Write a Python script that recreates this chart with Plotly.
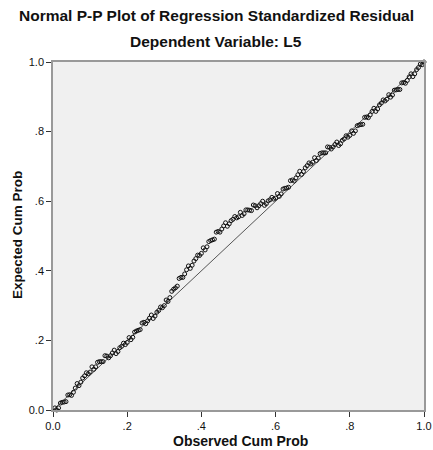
import plotly.graph_objects as go

# Observed cumulative probability (x) and expected cumulative probability (y)
observed_a = [
    0.005, 0.015, 0.025, 0.035, 0.045, 0.055, 0.065, 0.075, 0.085, 0.095,
    0.105, 0.115, 0.125, 0.135, 0.145, 0.155, 0.165, 0.175, 0.185, 0.195,
    0.205, 0.215, 0.225, 0.235, 0.245, 0.255, 0.265, 0.275, 0.285, 0.295,
    0.305, 0.315, 0.325, 0.335, 0.345, 0.355, 0.365, 0.375, 0.385, 0.395,
    0.405, 0.415, 0.425, 0.435, 0.445, 0.455, 0.465, 0.475, 0.485, 0.495,
    0.505, 0.515, 0.525, 0.535, 0.545, 0.555, 0.565, 0.575, 0.585, 0.595,
    0.605, 0.615, 0.625, 0.635, 0.645, 0.655, 0.665, 0.675, 0.685, 0.695,
    0.705, 0.715, 0.725, 0.735, 0.745, 0.755, 0.765, 0.775, 0.785, 0.795,
    0.805, 0.815, 0.825, 0.835, 0.845, 0.855, 0.865, 0.875, 0.885, 0.895,
    0.905, 0.915, 0.925, 0.935, 0.945, 0.955, 0.965, 0.975, 0.985, 0.995,
]
expected_a = [
    0.006, 0.006, 0.022, 0.024, 0.044, 0.051, 0.076, 0.080, 0.098, 0.104,
    0.124, 0.124, 0.139, 0.139, 0.155, 0.156, 0.172, 0.168, 0.183, 0.188,
    0.208, 0.209, 0.227, 0.231, 0.252, 0.256, 0.273, 0.270, 0.286, 0.294,
    0.316, 0.323, 0.347, 0.356, 0.381, 0.391, 0.414, 0.416, 0.435, 0.444,
    0.466, 0.469, 0.487, 0.491, 0.513, 0.520, 0.538, 0.535, 0.548, 0.552,
    0.568, 0.564, 0.575, 0.573, 0.587, 0.587, 0.600, 0.593, 0.604, 0.606,
    0.622, 0.621, 0.637, 0.640, 0.661, 0.667, 0.686, 0.685, 0.702, 0.707,
    0.725, 0.724, 0.739, 0.739, 0.755, 0.756, 0.770, 0.765, 0.779, 0.784,
    0.802, 0.802, 0.819, 0.821, 0.842, 0.848, 0.867, 0.865, 0.882, 0.888,
    0.906, 0.905, 0.920, 0.921, 0.941, 0.947, 0.966, 0.966, 0.984, 0.992,
]
observed_b = [
    0.01, 0.02, 0.03, 0.04, 0.05, 0.06, 0.07, 0.08, 0.09, 0.10,
    0.11, 0.12, 0.13, 0.14, 0.15, 0.16, 0.17, 0.18, 0.19, 0.20,
    0.21, 0.22, 0.23, 0.24, 0.25, 0.26, 0.27, 0.28, 0.29, 0.30,
    0.31, 0.32, 0.33, 0.34, 0.35, 0.36, 0.37, 0.38, 0.39, 0.40,
    0.41, 0.42, 0.43, 0.44, 0.45, 0.46, 0.47, 0.48, 0.49, 0.50,
    0.51, 0.52, 0.53, 0.54, 0.55, 0.56, 0.57, 0.58, 0.59, 0.60,
    0.61, 0.62, 0.63, 0.64, 0.65, 0.66, 0.67, 0.68, 0.69, 0.70,
    0.71, 0.72, 0.73, 0.74, 0.75, 0.76, 0.77, 0.78, 0.79, 0.80,
    0.81, 0.82, 0.83, 0.84, 0.85, 0.86, 0.87, 0.88, 0.89, 0.90,
    0.91, 0.92, 0.93, 0.94, 0.95, 0.96, 0.97, 0.98, 0.99, 1.00,
]
expected_b = [
    0.000, 0.020, 0.023, 0.043, 0.042, 0.063, 0.070, 0.092, 0.107, 0.109,
    0.117, 0.137, 0.139, 0.156, 0.150, 0.164, 0.162, 0.179, 0.192, 0.194,
    0.202, 0.224, 0.229, 0.250, 0.248, 0.264, 0.263, 0.281, 0.296, 0.300,
    0.312, 0.341, 0.351, 0.378, 0.381, 0.403, 0.407, 0.428, 0.445, 0.450,
    0.460, 0.484, 0.489, 0.511, 0.511, 0.529, 0.528, 0.544, 0.556, 0.555,
    0.559, 0.575, 0.574, 0.589, 0.581, 0.593, 0.588, 0.601, 0.611, 0.609,
    0.614, 0.635, 0.638, 0.659, 0.658, 0.676, 0.677, 0.696, 0.710, 0.712,
    0.717, 0.737, 0.739, 0.756, 0.750, 0.763, 0.760, 0.775, 0.788, 0.789,
    0.795, 0.817, 0.820, 0.841, 0.840, 0.858, 0.858, 0.877, 0.891, 0.893,
    0.899, 0.919, 0.921, 0.940, 0.939, 0.957, 0.958, 0.978, 0.994, 1.000,
]
reference_line = [0.0, 1.0]
tick_values = [0.0, 0.2, 0.4, 0.6, 0.8, 1.0]
x_tick_labels = ["0.0", ".2", ".4", ".6", ".8", "1.0"]
y_tick_labels = ["0.0", ".2", ".4", ".6", ".8", "1.0"]

title_line1 = "Normal P-P Plot of Regression Standardized Residual"
title_line2 = "Dependent Variable: L5"
x_title = "Observed Cum Prob"
y_title = "Expected Cum Prob"

FONT = "Liberation Sans, Arial, sans-serif"
W, H = 433, 450
ML, MR, MT, MB = 53, 9, 62, 40

fig = go.Figure()
fig.add_trace(go.Scatter(
    x=reference_line, y=reference_line, mode="lines",
    line=dict(color="#555555", width=1), hoverinfo="skip", showlegend=False,
    cliponaxis=False,
))
fig.add_trace(go.Scatter(
    x=observed_a + observed_b, y=expected_a + expected_b, mode="markers",
    marker=dict(symbol="circle-open", size=4, color="#111111",
                line=dict(width=1, color="#111111")),
    showlegend=False, cliponaxis=False,
))

axis_common = dict(
    range=[0, 1], tickvals=tick_values, ticks="outside", ticklen=5, tickwidth=1,
    tickcolor="#333333", showgrid=False, zeroline=False, showline=True,
    linecolor="#999999", linewidth=1.5, mirror=True,
    ticklabeloverflow="allow",
    tickfont=dict(family=FONT, size=11, color="#111111"),
)

plot_w = W - ML - MR
plot_h = H - MT - MB


def px_to_paper(px, py):
    return (px - ML) / plot_w, (H - MB - py) / plot_h


def label(text, px, py, size, angle=0):
    x, y = px_to_paper(px, py)
    return dict(text="<b>" + text + "</b>", x=x, y=y, xref="paper", yref="paper",
                showarrow=False, textangle=angle,
                font=dict(family=FONT, size=size, color="#111111"),
                xanchor="center", yanchor="middle")


fig.update_layout(
    width=W, height=H,
    margin=dict(l=ML, r=MR, t=MT, b=MB, autoexpand=False),
    paper_bgcolor="white", plot_bgcolor="#f0f0f0",
    xaxis=dict(ticktext=x_tick_labels, **axis_common),
    yaxis=dict(ticktext=y_tick_labels, **axis_common),
    annotations=[
        label(title_line1, 216, 15, 15.5),
        label(title_line2, 216, 42, 15.5),
        label(x_title, 240, 441, 14),
        label(y_title, 17, 235, 13.5, angle=-90),
    ],
)

fig.write_html(
    "out.html",
    config={"displayModeBar": False},
    post_script="document.body.style.margin='0';document.body.style.overflow='hidden';",
)
